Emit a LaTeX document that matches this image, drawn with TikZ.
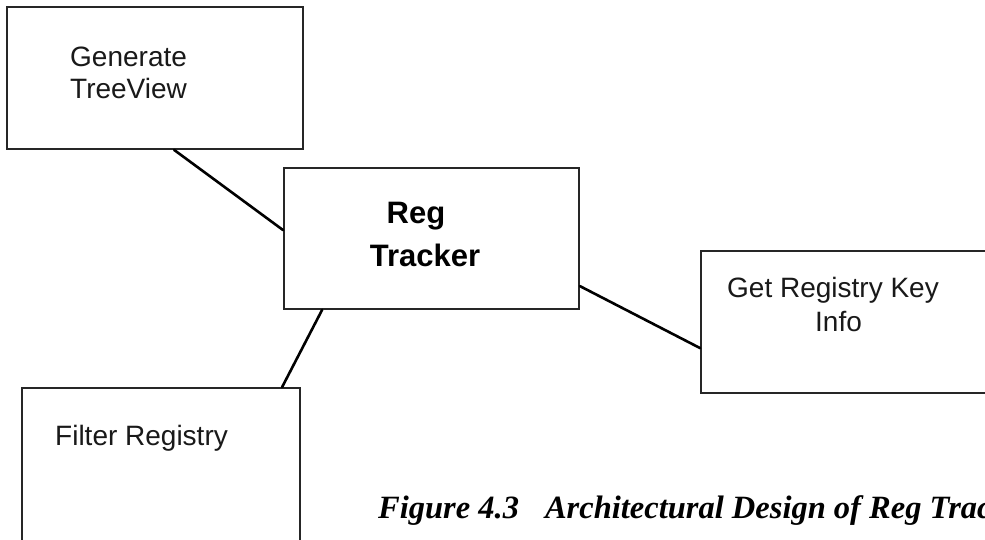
\documentclass[tikz,border=0pt]{standalone}
\usepackage{fontspec}
\setmainfont{Liberation Serif}
\newfontfamily\boxfont{Liberation Sans}
\usetikzlibrary{calc}

\tikzset{
  blockbox/.style={draw=black!85, line width=1.8pt, rectangle, inner sep=0pt, fill=white},
  link/.style={draw=black, line width=2.6pt, line cap=round},
  boxtext/.style={inner sep=0pt, font=\boxfont\fontsize{28}{32}\selectfont, text=black!90},
  titletext/.style={inner sep=0pt, font=\boxfont\bfseries\fontsize{31}{40}\selectfont, text=black},
  captiontext/.style={inner sep=0pt, font=\bfseries\itshape\fontsize{32.5}{36}\selectfont, text=black}
}

\begin{document}
\begin{tikzpicture}[x=1pt, y=-1pt]
  \useasboundingbox (0,0) rectangle (985,540);
  \clip (0,0) rectangle (985,540);
  \fill[white] (0,0) rectangle (985,540);

  % module boxes
  \node[blockbox, minimum width=296pt, minimum height=142pt] (gen) at (155,78) {};
  \node[blockbox, minimum width=295pt, minimum height=141pt] (reg) at (431.5,238.5) {};
  \node[blockbox, minimum width=295pt, minimum height=142pt] (key) at (848.5,322) {};
  \node[blockbox, minimum width=278pt, minimum height=180pt] (flt) at (161,478) {};

  % connectors from the central module
  \draw[link] ($(gen.south west)+(168,0)$) -- ($(reg.north west)+(0,63)$);
  \draw[link] ($(reg.south west)+(39,0)$) -- ($(flt.north west)+(261,0)$);
  \draw[link] ($(reg.north east)+(0,119)$) -- ($(key.north west)+(0,98)$);

  % box labels
  \node[boxtext, anchor=base west] (genA) at (70,67) {Generate};
  \node[boxtext, anchor=base west] (genB) at (70,99) {TreeView};

  \node[titletext, anchor=base] (regA) at (416,224) {Reg};
  \node[titletext, anchor=base] (regB) at (425,266) {Tracker};

  \node[boxtext, anchor=base west] (keyA) at (727,297) {Get Registry Key};
  \node[boxtext, anchor=base west] (keyB) at (815,331) {Info};

  \node[boxtext, anchor=base west] (fltA) at (55,445) {Filter Registry};

  % figure caption
  \node[captiontext, anchor=base west] (cap) at (378,518)
    {Figure 4.3\hspace{26pt}Architectural Design of Reg Tracker};
\end{tikzpicture}
\end{document}
